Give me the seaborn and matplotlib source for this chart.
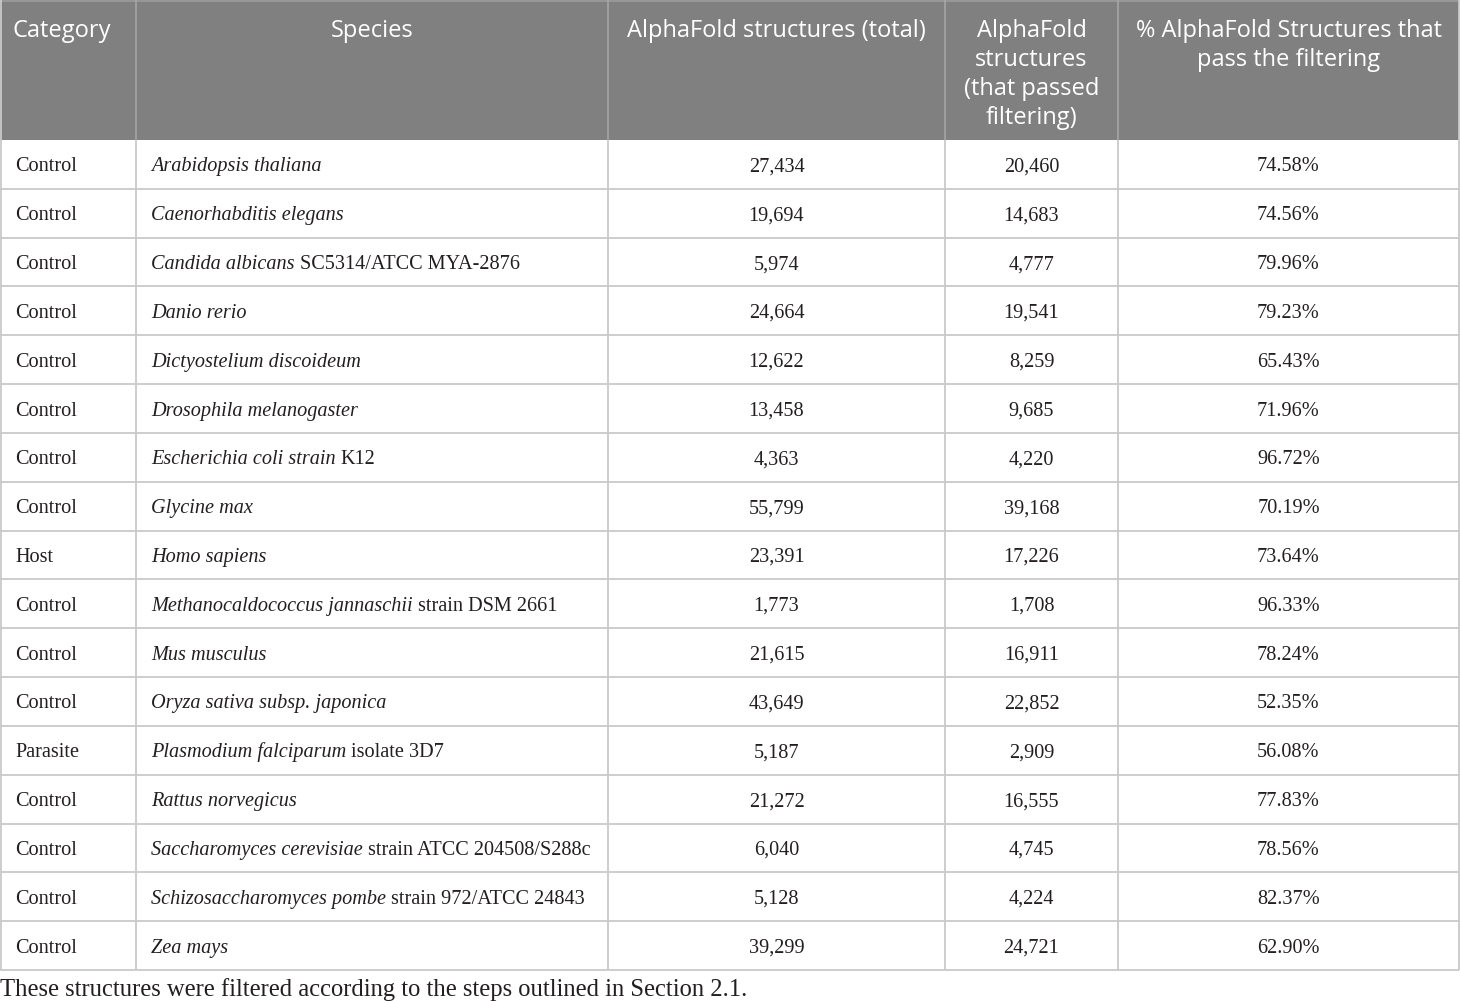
import numpy as np
import pandas as pd
import seaborn as sns
import matplotlib.pyplot as plt


# ----------------------------------------------------     Data   ---------------------------------------------------
categories = ['Control', 'Control', 'Control', 'Control', 'Control', 'Control', 'Control', 'Control',
              'Host', 'Control', 'Control', 'Control', 'Parasite', 'Control', 'Control', 'Control', 'Control']

# species names as (text, italic) pieces
species = [
    [('Arabidopsis thaliana', True)],
    [('Caenorhabditis elegans', True)],
    [('Candida albicans', True), ('SC5314/ATCC MYA-2876', False)],
    [('Danio rerio', True)],
    [('Dictyostelium discoideum', True)],
    [('Drosophila melanogaster', True)],
    [('Escherichia coli strain', True), ('K12', False)],
    [('Glycine max', True)],
    [('Homo sapiens', True)],
    [('Methanocaldococcus jannaschii', True), ('strain DSM 2661', False)],
    [('Mus musculus', True)],
    [('Oryza sativa subsp. japonica', True)],
    [('Plasmodium falciparum', True), ('isolate 3D7', False)],
    [('Rattus norvegicus', True)],
    [('Saccharomyces cerevisiae', True), ('strain ATCC 204508/S288c', False)],
    [('Schizosaccharomyces pombe', True), ('strain 972/ATCC 24843', False)],
    [('Zea mays', True)],
]

total_structures = [27434, 19694, 5974, 24664, 12622, 13458, 4363, 55799, 23391,
                    1773, 21615, 43649, 5187, 21272, 6040, 5128, 39299]
passed_structures = [20460, 14683, 4777, 19541, 8259, 9685, 4220, 39168, 17226,
                     1708, 16911, 22852, 2909, 16555, 4745, 4224, 24721]
pass_percent = [74.58, 74.56, 79.96, 79.23, 65.43, 71.96, 96.72, 70.19, 73.64,
                96.33, 78.24, 52.35, 56.08, 77.83, 78.56, 82.37, 62.90]

header_labels = [
    ['Category'],
    ['Species'],
    ['AlphaFold structures (total)'],
    ['AlphaFold', 'structures', '(that passed', 'filtering)'],
    ['% AlphaFold Structures that', 'pass the filtering'],
]
footnote = 'These structures were filtered according to the steps outlined in Section 2.1.'

df = pd.DataFrame({
    'Category': categories,
    'Total': total_structures,
    'Passed': passed_structures,
    'Percent': pass_percent,
})


# ----------------------------------------------------     Plotting   ---------------------------------------------------
sns.set_theme(style='white')
plt.rcParams['font.family'] = ['Liberation Serif', 'DejaVu Serif']

W, H = 1460, 1001
col_edges = [0, 136, 608, 945, 1118, 1459]
header_bottom = 140
table_bottom = 970
n_rows = len(df)
row_edges = np.linspace(header_bottom, table_bottom, n_rows + 1)
row_mid = (row_edges[:-1] + row_edges[1:]) / 2

text_color = '#231f20'
grid_color = '#c9c9c9'
header_bg = '#808080'
body_size = 14.6
header_size = 17.0
foot_size = 17.7

fig = plt.figure(figsize=(W / 100, H / 100), dpi=100)
ax = fig.add_axes([0, 0, 1, 1])
ax.set_xlim(0, W)
ax.set_ylim(H, 0)
ax.axis('off')

# header background
ax.add_patch(plt.Rectangle((0, 0), col_edges[-1], header_bottom, color=header_bg, lw=0, zorder=0))

# grid lines
ax.hlines(row_edges[1:], 0, col_edges[-1], color=grid_color, lw=1.3, zorder=1)
ax.hlines([0.6], 0, col_edges[-1], color='#9a9a9a', lw=1.3, zorder=1)
ax.vlines(col_edges[1:-1], header_bottom, table_bottom, color=grid_color, lw=1.3, zorder=1)
ax.vlines(col_edges[1:-1], 0, header_bottom, color='#a8a8a8', lw=1.1, zorder=1)
ax.vlines([0.7, col_edges[-1]], 0, table_bottom, color=grid_color, lw=1.3, zorder=1)

# header text
for i, lines in enumerate(header_labels):
    for j, line in enumerate(lines):
        y = 37 + 29 * j
        if i == 0:
            ax.text(13, y, line, ha='left', va='baseline', color='white',
                    fontsize=header_size, family=['Open Sans', 'DejaVu Sans'])
        else:
            xc = (col_edges[i] + col_edges[i + 1]) / 2
            ax.text(xc, y, line, ha='center', va='baseline', color='white',
                    fontsize=header_size, family=['Open Sans', 'DejaVu Sans'])

fig.canvas.draw()
renderer = fig.canvas.get_renderer()


def text_width(s, style):
    t = ax.text(0, 0, s, fontsize=body_size, style=style)
    w = t.get_window_extent(renderer).width
    t.remove()
    return w


space_w = text_width('n n', 'normal') - text_width('nn', 'normal')

# body text
for r in range(n_rows):
    yb = row_mid[r] + 7
    ax.text(15, yb, df['Category'][r], ha='left', va='baseline', color=text_color, fontsize=body_size)

    x = col_edges[1] + 15
    for k, (piece, italic) in enumerate(species[r]):
        style = 'italic' if italic else 'normal'
        if k > 0:
            x += space_w
        ax.text(x, yb, piece, ha='left', va='baseline', color=text_color,
                fontsize=body_size, style=style)
        x += text_width(piece, style)

    values = [f"{df['Total'][r]:,}", f"{df['Passed'][r]:,}", f"{df['Percent'][r]:.2f}%"]
    for c, v in enumerate(values):
        xc = (col_edges[c + 2] + col_edges[c + 3]) / 2
        ax.text(xc, yb, v, ha='center', va='baseline', color=text_color, fontsize=body_size)

ax.text(0, 996, footnote, ha='left', va='baseline', color=text_color, fontsize=foot_size)

fig.savefig('out.png', dpi=100)
